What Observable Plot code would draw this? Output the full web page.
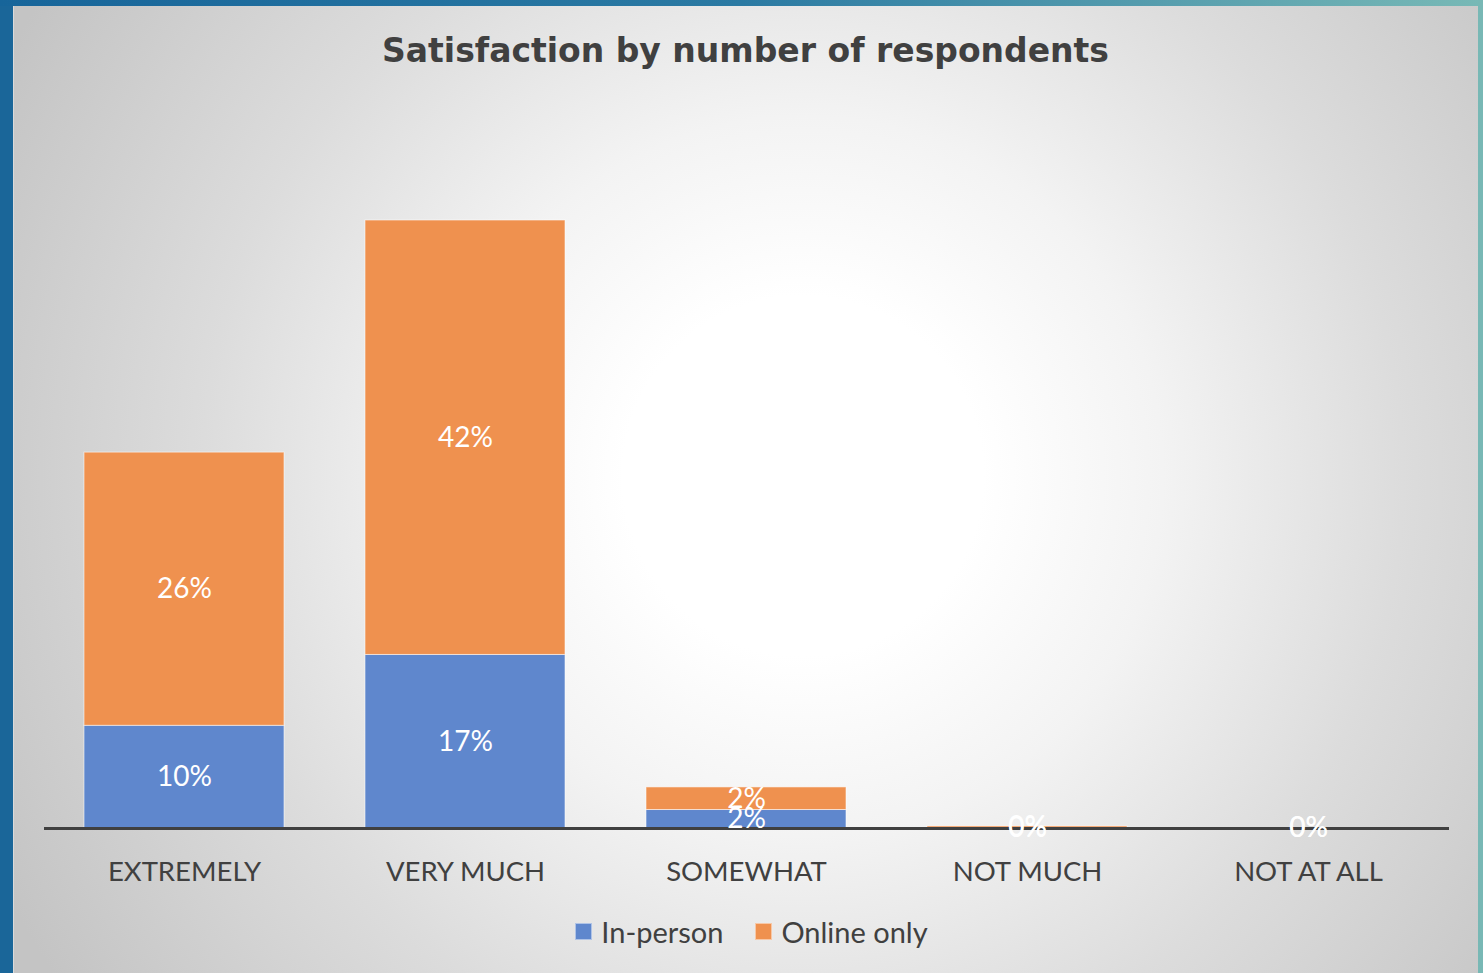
<!DOCTYPE html>
<html>
<head>
<meta charset="utf-8">
<script src="https://cdn.jsdelivr.net/npm/d3@7"></script>
<script src="https://cdn.jsdelivr.net/npm/@observablehq/plot@0.6"></script>
<style>
  html, body { margin: 0; padding: 0; width: 1483px; height: 973px; overflow: hidden; }
  #page { position: absolute; left: 0; top: 0; width: 1483px; height: 973px; background: #1a6699; }
  #topstrip { position: absolute; left: 0; top: 0; width: 1483px; height: 6px;
    background: linear-gradient(90deg, #17659a 0%, #2b7aa3 50%, #78b9b6 100%); }
  #rightstrip { position: absolute; left: 1478px; top: 0; width: 5px; height: 973px; background: #78b8b5; }
  #panel { position: absolute; left: 13px; top: 6px; width: 1465px; height: 967px;
    background: radial-gradient(circle at 790px 470px, #ffffff 0px, #ffffff 180px, #f3f3f3 360px, #dcdcdc 600px, #c4c4c4 900px);
    box-shadow: inset 1px 0 0 #dadada; }
  #title { position: absolute; left: 0; top: 31px; width: 1491px; text-align: center;
    font-family: "DejaVu Sans", sans-serif; font-weight: bold; font-size: 33px; color: #404040; }
  #chart { position: absolute; left: 0; top: 90px; }
  #legend { position: absolute; left: 0; top: 914px; width: 1483px; display: flex; justify-content: center; gap: 32px;
    font-family: Lato, sans-serif; font-size: 29px; color: #404040; padding-left: 20px; box-sizing: border-box; }
  .item { display: flex; align-items: center; gap: 9px; }
  .sw { width: 17px; height: 17px; box-sizing: border-box; }
</style>
</head>
<body>
<div id="page">
  <div id="topstrip"></div>
  <div id="rightstrip"></div>
  <div id="panel"></div>
  <div id="title">Satisfaction by number of respondents</div>
  <div id="chart"></div>
  <div id="legend"></div>
</div>
<script>
const categories = ["EXTREMELY", "VERY MUCH", "SOMEWHAT", "NOT MUCH", "NOT AT ALL"];
const seriesNames = ["In-person", "Online only"];
const inPerson = [10.0, 16.9, 1.8, 0, 0];
const onlineOnly = [26.6, 42.3, 2.2, 0.2, 0];
const inPersonLabels = ["10%", "17%", "2%", "0%", "0%"];
const onlineLabels = ["26%", "42%", "2%", "0%", "0%"];
const colors = ["#5f87cd", "#ef914f"];

const data = [];
categories.forEach((c, i) => {
  data.push({category: c, series: seriesNames[0], value: inPerson[i], label: inPersonLabels[i]});
  data.push({category: c, series: seriesNames[1], value: onlineOnly[i], label: onlineLabels[i]});
});

const pageAxisY = 828, svgTop = 90, pxPerPct = 10.27, yMax = 60;
const H = 830;
const marginBottom = svgTop + H - pageAxisY;
const marginTop = (pageAxisY - svgTop) - yMax * pxPerPct;

const plot = Plot.plot({
  width: 1483,
  height: H,
  marginLeft: 44,
  marginRight: 34,
  marginTop,
  marginBottom,
  style: {background: "transparent", fontFamily: "Lato, sans-serif"},
  x: {domain: categories, paddingInner: 0.288, paddingOuter: 0.144, label: null},
  y: {domain: [0, yMax], axis: null},
  color: {domain: seriesNames, range: colors},
  marks: [
    Plot.barY(data, {x: "category", y: "value", fill: "series", z: "series", order: seriesNames,
      stroke: "#ffffff", strokeOpacity: 0.55, strokeWidth: 1}),
    Plot.ruleY([0], {stroke: "#404040", strokeWidth: 3}),
    Plot.text(data, Plot.stackY({x: "category", y: "value", z: "series", order: seriesNames,
      text: "label", fill: "white", fontSize: 28})),
    Plot.axisX({tickSize: 0, tickPadding: 33, fontSize: 27.5, color: "#404040", label: null})
  ]
});
document.getElementById("chart").appendChild(plot);

const legend = document.getElementById("legend");
seriesNames.forEach((s, i) => {
  const it = document.createElement("div");
  it.className = "item";
  const sw = document.createElement("div");
  sw.className = "sw";
  sw.style.background = colors[i];
  sw.style.border = "1px solid rgba(255,255,255,0.5)";
  const t = document.createElement("span");
  t.textContent = s;
  it.appendChild(sw); it.appendChild(t);
  legend.appendChild(it);
});
</script>
</body>
</html>
